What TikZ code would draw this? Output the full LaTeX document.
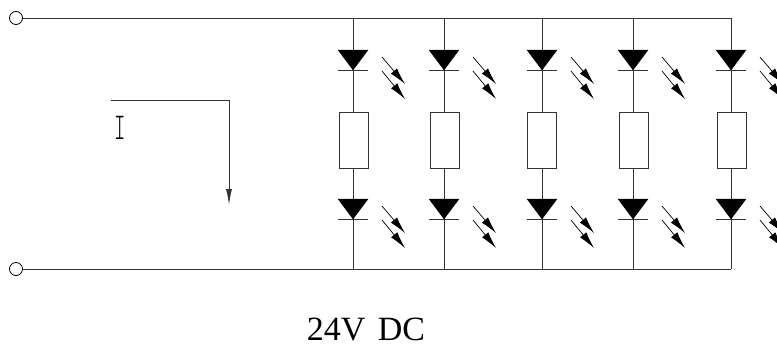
\documentclass[tikz,border=0pt]{standalone}
\usepackage{fontspec}
\setmainfont{Liberation Serif}
\usetikzlibrary{arrows.meta}
\tikzset{wire/.style={line width=1pt, color=black!80}}
\def\ledsymbol(#1,#2){
	\draw[fill=black, draw=black, line width=0.3pt] (#1-15, #2-20) -- (#1+15, #2-20) -- (#1, #2) -- cycle;
	\draw[wire] (#1-15, #2) -- (#1+15, #2);
	\draw[line width=0.7pt, -{Latex[length=17pt, width=8pt]}] (#1+29, #2-13) -- (#1+52, #2+14);
	\draw[line width=0.7pt, -{Latex[length=17pt, width=8pt]}] (#1+29, #2+1) -- (#1+52, #2+29);
}
\def\ledbranch(#1,#2:#3){
	\draw[wire] (#1, 18) -- (#1, 269);
	\draw[wire, fill=white] (#2, 112) rectangle (#3, 168);
	\ledsymbol(#1,70);
	\ledsymbol(#1,219);
}

\begin{document}
\begin{tikzpicture}[x=1pt, y=-1pt]
	%%%%% START %%%%%
	\useasboundingbox (0, 0) rectangle (777, 343);
	\clip (0, 0) rectangle (777, 343);

	\draw[wire] (23, 18) -- (731, 18);
	\draw[wire] (23, 269) -- (731, 269);
	\draw[line width=0.8pt] (16, 18) circle (6.5);
	\draw[line width=0.8pt] (16, 269) circle (6.5);

	\ledbranch(353,339:368);
	\ledbranch(444,430:459);
	\ledbranch(542,527:556);
	\ledbranch(633,619:648);
	\ledbranch(731,717:746);

	\draw[wire, -{Latex[length=16pt, width=6pt]}] (111, 100.5) -- (229, 100.5) -- (229, 205);
	\node[xscale=0.57, font=\fontfamily{lmtt}\fontseries{l}\fontsize{38}{38}\selectfont, inner sep=0pt] (current) at (120.5, 127.5) {I};

	\node[anchor=base, font=\fontsize{34}{34}\selectfont, inner sep=0pt] (voltage) at (366, 340.5) {24V\hspace{4pt} DC};
	%%%%% END %%%%%
\end{tikzpicture}
\end{document}
